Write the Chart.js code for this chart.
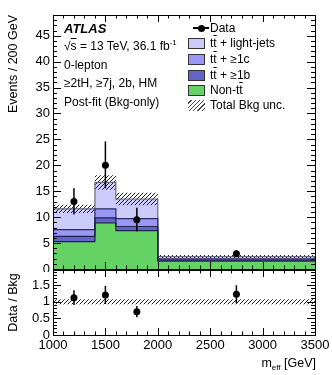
<!DOCTYPE html>
<html>
<head>
<meta charset="utf-8">
<script src="https://cdn.jsdelivr.net/npm/chart.js@4.4.1/dist/chart.umd.min.js"></script>
<style>
  body { margin: 0; background: #fff; }
  #wrap { position: relative; width: 332px; height: 375px; overflow: hidden; font-family: "Liberation Sans", Arial, sans-serif; }
  canvas { position: absolute; left: 0; }
  .t { position: absolute; white-space: nowrap; line-height: 1; color: #000; font-size: 12px; }
  .ob { text-decoration: overline; }
  .sup { font-size: 8px; position: relative; top: -5px; }
  .sw { position: absolute; width: 15px; height: 9px; border: 1px solid #333; }
</style>
</head>
<body>
<div id="wrap">
  <canvas id="main" width="332" height="272" style="top:0"></canvas>
  <canvas id="ratio" width="332" height="111" style="top:264px"></canvas>

  <div class="t" style="left:64px;top:22px;font-size:13px;font-weight:bold;font-style:italic">ATLAS</div>
  <div class="t" style="left:64px;top:40px">√<span class="ob">s</span> = 13 TeV, 36.1 fb<span class="sup">-1</span></div>
  <div class="t" style="left:64px;top:59px">0-lepton</div>
  <div class="t" style="left:64px;top:77px">≥2tH, ≥7j, 2b, HM</div>
  <div class="t" style="left:64px;top:96px">Post-fit (Bkg-only)</div>

  <div style="position:absolute;left:193px;top:27px;width:16px;height:1.5px;background:#000"></div>
  <div style="position:absolute;left:197.5px;top:24.5px;width:7px;height:7px;border-radius:50%;background:#000"></div>
  <div class="t" style="left:210px;top:22px">Data</div>
  <div class="sw" style="left:188px;top:38px;background:#ccccfa"></div>
  <div class="t" style="left:210px;top:37px">t<span class="ob">t</span> + light-jets</div>
  <div class="sw" style="left:188px;top:54px;background:#9999f5"></div>
  <div class="t" style="left:210px;top:53px">t<span class="ob">t</span> + ≥1c</div>
  <div class="sw" style="left:188px;top:70px;background:#6464c8"></div>
  <div class="t" style="left:210px;top:69px">t<span class="ob">t</span> + ≥1b</div>
  <div class="sw" style="left:188px;top:85px;background:#64d264"></div>
  <div class="t" style="left:210px;top:84px">Non-t<span class="ob">t</span></div>
  <div style="position:absolute;left:188px;top:100px;width:17px;height:11px;background:repeating-linear-gradient(135deg,#fff 0 2px,#444 2px 3px)"></div>
  <div class="t" style="left:210px;top:99px">Total Bkg unc.</div>

  <div class="t" style="right:16px;top:357px;font-size:12.5px">m<sub style="font-size:8px;vertical-align:0;position:relative;top:3px">eff</sub> [GeV]</div>
</div>

<script>
// bin edges in m_eff [GeV]
const binEdges = [1000, 1400, 1600, 2000, 3500];
const binCenters = [1200, 1500, 1800, 2750];

// post-fit backgrounds, events / 200 GeV
const nonTT = [5.3, 8.9, 7.4, 1.5];
const ttB = [1.0, 0.95, 0.8, 0.2];
const ttC = [1.3, 1.75, 1.5, 0.25];
const ttLight = [4.0, 5.1, 3.8, 0.45];
const bkgUnc = [0.8, 1.4, 1.2, 0.3];

// data
const dataVals = [13, 20, 9.5, 2.93];
const dataErrUp = [2.6, 4.6, 2.3, 0.7];
const dataErrDn = [2.5, 4.4, 2.2, 0.6];

// ratio panel
const ratioVals = [1.12, 1.2, 0.7, 1.22];
const ratioErr = [0.22, 0.27, 0.17, 0.27];
const ratioUnc = [0.075, 0.075, 0.075, 0.075];

// ticks
const xTicks = [1000, 1500, 2000, 2500, 3000, 3500];
const yTicks = [0, 5, 10, 15, 20, 25, 30, 35, 40, 45];
const rTicks = [0, 0.5, 1, 1.5];

const FONT = 'Liberation Sans';

function steps(vals) {
  return binEdges.map((e, i) => ({ x: e, y: vals[Math.min(i, vals.length - 1)] }));
}

function hatch() {
  const c = document.createElement('canvas');
  c.width = c.height = 4;
  const g = c.getContext('2d');
  g.strokeStyle = '#222';
  g.lineWidth = 1;
  g.beginPath();
  g.moveTo(0, 4); g.lineTo(4, 0);
  g.moveTo(-1, 1); g.lineTo(1, -1);
  g.moveTo(3, 5); g.lineTo(5, 3);
  g.stroke();
  return g.createPattern(c, 'repeat');
}

// no label overflow padding: the chart area is fixed by layout.padding
function noPad(s) {
  s.paddingTop = 0; s.paddingBottom = 0; s.paddingLeft = 0; s.paddingRight = 0;
}

// frame + inward ticks on all four sides, like ROOT
const frameTicks = {
  id: 'frameTicks',
  afterDraw(chart, args, o) {
    const { ctx, chartArea: a } = chart;
    const x = chart.scales.x, y = chart.scales.y;
    ctx.save();
    ctx.strokeStyle = '#000';
    ctx.lineWidth = 1;
    ctx.beginPath();
    const nx = Math.round((o.xMax - o.xMin) / o.xMinor);
    for (let i = 0; i <= nx; i++) {
      const v = o.xMin + i * o.xMinor;
      const len = i % o.xEvery === 0 ? o.xMajorLen : o.xMinorLen;
      const px = Math.round(x.getPixelForValue(v)) + 0.5;
      ctx.moveTo(px, a.bottom); ctx.lineTo(px, a.bottom - len);
      ctx.moveTo(px, a.top); ctx.lineTo(px, a.top + len);
    }
    const ny = Math.floor((o.yMax - o.yMin) / o.yMinor + 1e-6);
    for (let i = 0; i <= ny; i++) {
      const v = o.yMin + i * o.yMinor;
      const len = i % o.yEvery === 0 ? o.yMajorLen : o.yMinorLen;
      const py = Math.round(y.getPixelForValue(v)) + 0.5;
      ctx.moveTo(a.left, py); ctx.lineTo(a.left + len, py);
      ctx.moveTo(a.right, py); ctx.lineTo(a.right - len, py);
    }
    ctx.stroke();
    ctx.strokeRect(Math.round(a.left) + 0.5, Math.round(a.top) + 0.5, Math.round(a.right - a.left), Math.round(a.bottom - a.top));
    ctx.restore();
  }
};

const errBars = {
  id: 'errBars',
  afterDatasetsDraw(chart, args, o) {
    const { ctx } = chart;
    const x = chart.scales.x, y = chart.scales.y;
    ctx.save();
    ctx.strokeStyle = '#000';
    ctx.lineWidth = 1.5;
    ctx.beginPath();
    o.x.forEach((xv, i) => {
      const px = x.getPixelForValue(xv);
      ctx.moveTo(px, y.getPixelForValue(o.y[i] - o.dn[i]));
      ctx.lineTo(px, y.getPixelForValue(o.y[i] + o.up[i]));
    });
    ctx.stroke();
    ctx.restore();
  }
};

const pattern = hatch();
const total = nonTT.map((v, i) => v + ttB[i] + ttC[i] + ttLight[i]);

function layer(label, vals, bg, border, fill) {
  return {
    label, data: steps(vals), stack: 'bkg', stepped: true, fill,
    backgroundColor: bg, borderColor: border, borderWidth: 1.2, pointRadius: 0, order: 2
  };
}

new Chart(document.getElementById('main'), {
  type: 'line',
  data: {
    datasets: [
      layer('Non-tt', nonTT, '#64d264', '#202050', 'origin'),
      layer('tt + >=1b', ttB, '#6464c8', '#202050', '-1'),
      layer('tt + >=1c', ttC, '#9999f5', '#2a2a66', '-1'),
      layer('tt + light-jets', ttLight, '#ccccfa', '#6a6a7a', '-1'),
      { label: 'uncLo', data: steps(total.map((t, i) => t - bkgUnc[i])), stack: 'lo', stepped: true,
        fill: false, borderWidth: 0, pointRadius: 0, order: 1 },
      { label: 'uncHi', data: steps(total.map((t, i) => t + bkgUnc[i])), stack: 'hi', stepped: true,
        fill: '-1', backgroundColor: pattern, borderWidth: 0, pointRadius: 0, order: 1 },
      { label: 'Data', data: binCenters.map((c, i) => ({ x: c, y: dataVals[i] })), stack: 'data',
        showLine: false, pointRadius: 3.5, pointBackgroundColor: '#000', pointBorderWidth: 0, order: 0 }
    ]
  },
  options: {
    responsive: false,
    animation: false,
    events: [],
    layout: { autoPadding: false, padding: { left: 0, right: 17, top: 15, bottom: 3 } },
    scales: {
      x: { type: 'linear', min: 1000, max: 3500, display: false, afterFit: noPad },
      y: {
        stacked: true, min: 0, max: 49,
        afterBuildTicks: s => { s.ticks = yTicks.map(v => ({ value: v })); },
        afterFit: s => { s.width = 53; noPad(s); },
        grid: { display: false, drawTicks: false },
        border: { display: false },
        ticks: { padding: 3, color: '#000', font: { family: FONT, size: 13 } },
        title: { display: true, text: 'Events / 200 GeV', align: 'end', color: '#000',
                 padding: { top: 6, bottom: 0 }, font: { family: FONT, size: 12.5 } }
      }
    },
    plugins: {
      legend: { display: false },
      tooltip: { enabled: false },
      filler: { drawTime: 'beforeDatasetsDraw' },
      errBars: { x: binCenters, y: dataVals, up: dataErrUp, dn: dataErrDn },
      frameTicks: { xMin: 1000, xMax: 3500, xMinor: 100, xEvery: 5, xMajorLen: 7, xMinorLen: 3.5,
                    yMin: 0, yMax: 49, yMinor: 1, yEvery: 5, yMajorLen: 8, yMinorLen: 4 }
    }
  },
  plugins: [errBars, frameTicks]
});

new Chart(document.getElementById('ratio'), {
  type: 'line',
  data: {
    datasets: [
      { label: 'bandLo', data: steps(ratioUnc.map(u => 1 - u)), stepped: true, fill: false,
        borderWidth: 0, pointRadius: 0, order: 1 },
      { label: 'bandHi', data: steps(ratioUnc.map(u => 1 + u)), stepped: true, fill: '-1',
        backgroundColor: pattern, borderWidth: 0, pointRadius: 0, order: 1 },
      { label: 'Data/Bkg', data: binCenters.map((c, i) => ({ x: c, y: ratioVals[i] })),
        showLine: false, pointRadius: 3.5, pointBackgroundColor: '#000', pointBorderWidth: 0, order: 0 }
    ]
  },
  options: {
    responsive: false,
    animation: false,
    events: [],
    layout: { autoPadding: false, padding: { left: 0, right: 17, top: 6, bottom: 20 } },
    scales: {
      x: {
        type: 'linear', min: 1000, max: 3500,
        afterBuildTicks: s => { s.ticks = xTicks.map(v => ({ value: v })); },
        afterFit: s => { s.height = 20; noPad(s); },
        grid: { display: false, drawTicks: false },
        border: { display: false },
        ticks: { padding: 3, maxRotation: 0, color: '#000', callback: v => String(v),
                 font: { family: FONT, size: 13 } }
      },
      y: {
        min: 0, max: 1.95,
        afterBuildTicks: s => { s.ticks = rTicks.map(v => ({ value: v })); },
        afterFit: s => { s.width = 53; noPad(s); },
        grid: { display: false, drawTicks: false },
        border: { display: false },
        ticks: { padding: 3, color: '#000', callback: v => String(v), font: { family: FONT, size: 13 } },
        title: { display: true, text: 'Data / Bkg', color: '#000',
                 padding: { top: 6, bottom: 0 }, font: { family: FONT, size: 12.5 } }
      }
    },
    plugins: {
      legend: { display: false },
      tooltip: { enabled: false },
      filler: { drawTime: 'beforeDatasetsDraw' },
      errBars: { x: binCenters, y: ratioVals, up: ratioErr, dn: ratioErr },
      frameTicks: { xMin: 1000, xMax: 3500, xMinor: 100, xEvery: 5, xMajorLen: 7, xMinorLen: 3.5,
                    yMin: 0, yMax: 1.95, yMinor: 0.1, yEvery: 5, yMajorLen: 8, yMinorLen: 4 }
    }
  },
  plugins: [errBars, frameTicks]
});
</script>
</body>
</html>
